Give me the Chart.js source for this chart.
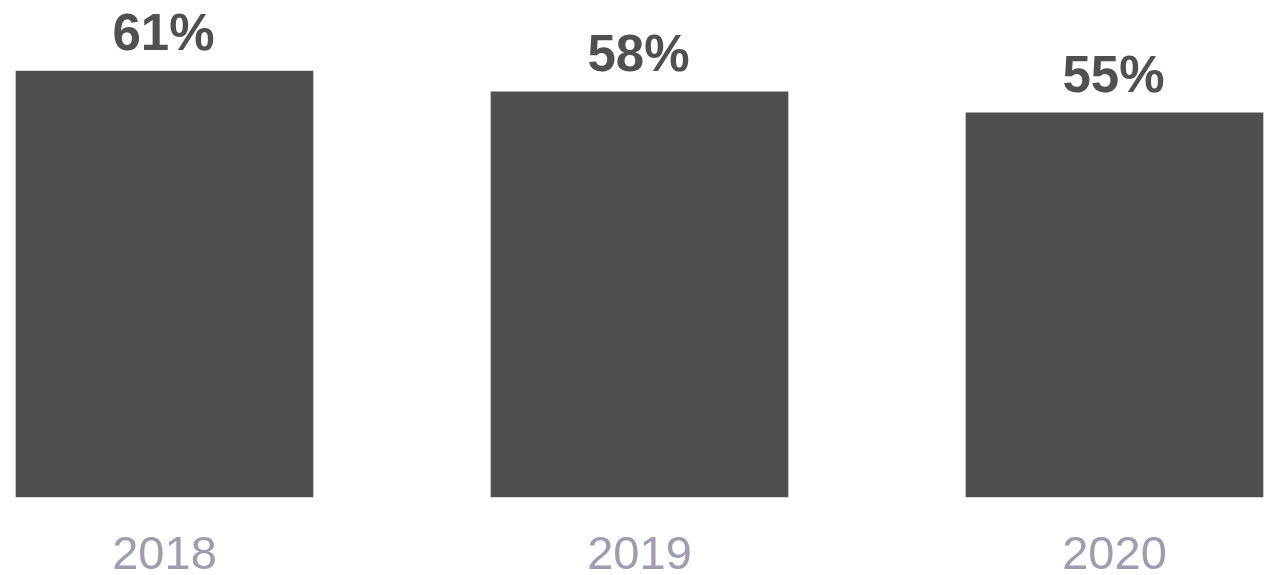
<!DOCTYPE html>
<html>
<head>
<meta charset="utf-8">
<script src="https://cdn.jsdelivr.net/npm/chart.js@4"></script>
<style>
  html, body { margin: 0; padding: 0; background: #fff; }
  canvas { display: block; }
</style>
</head>
<body>
<canvas id="myChart" width="1271" height="575"></canvas>
<script>
// DATA
var years = ['2018', '2019', '2020'];
var shares = [61, 58, 55];

var FONT = '"Liberation Sans", Arial, Helvetica, sans-serif';

// value labels above the bars
var barLabels = {
    id: 'barLabels',
    afterDatasetsDraw: function(chart) {
        var ctx = chart.ctx;
        var meta = chart.getDatasetMeta(0);
        ctx.save();
        ctx.font = 'bold 51px ' + FONT;
        ctx.fillStyle = '#505050';
        ctx.textAlign = 'center';
        ctx.textBaseline = 'alphabetic';
        meta.data.forEach(function(bar, i) {
            ctx.fillText(shares[i] + '%', bar.x - 1, bar.y - 21);
        });
        ctx.restore();
    }
};

var ctx = document.getElementById('myChart').getContext('2d');
var myChart = new Chart(ctx, {
    type: 'bar',
    data: {
        labels: years,
        datasets: [{
            data: shares,
            backgroundColor: '#4f4f4f',
            borderWidth: 0,
            barThickness: 297,
            clip: false
        }]
    },
    options: {
        responsive: false,
        animation: false,
        events: [],
        layout: {
            padding: { left: 164.5, right: 156.5, top: 71, bottom: 0 }
        },
        plugins: {
            legend: { display: false },
            tooltip: { enabled: false }
        },
        scales: {
            x: {
                offset: false,
                grid: { display: false, drawTicks: false },
                border: { display: false },
                ticks: {
                    color: '#a29bb0',
                    padding: 36,
                    font: { family: FONT, size: 47, lineHeight: 1 }
                },
                afterFit: function(scale) {
                    scale.height = 78;
                }
            },
            y: {
                display: false,
                min: 0,
                max: 61
            }
        }
    },
    plugins: [barLabels]
});
</script>
</body>
</html>
